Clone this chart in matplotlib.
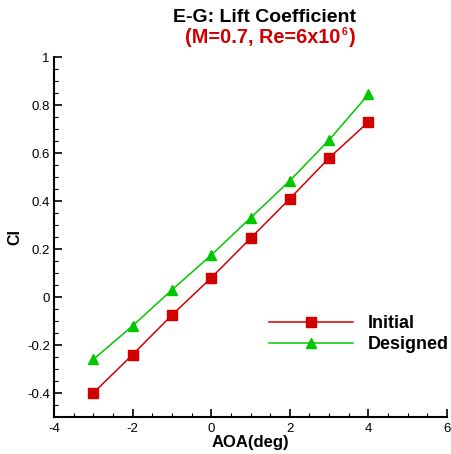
import matplotlib
matplotlib.use("Agg")
import matplotlib.pyplot as plt
from matplotlib.ticker import MultipleLocator

plt.rcParams['font.family'] = ['Liberation Sans', 'DejaVu Sans']
plt.rcParams['axes.unicode_minus'] = False

aoa = [-3, -2, -1, 0, 1, 2, 3, 4]
cl_initial = [-0.40, -0.24, -0.075, 0.08, 0.245, 0.41, 0.58, 0.73]
cl_designed = [-0.26, -0.12, 0.03, 0.175, 0.33, 0.485, 0.655, 0.845]
xticks = [-4, -2, 0, 2, 4, 6]
yticks = [-0.4, -0.2, 0, 0.2, 0.4, 0.6, 0.8, 1]

W, H = 452, 454
fig = plt.figure(figsize=(W / 100, H / 100), dpi=100)
ax = fig.add_axes([0.1195, 0.0815, 0.8695, 0.7925])

red = '#D00000'
green = '#00C800'
ax.plot(aoa, cl_initial, color=red, lw=1.1, marker='s', ms=7.3, mfc=red, mec=red, label='Initial')
ax.plot(aoa, cl_designed, color=green, lw=1.1, marker='^', ms=7, mfc=green, mec=green, label='Designed')

ax.set_xlim(-4, 6)
ax.set_ylim(-0.5, 1)
ax.set_xticks(xticks)
ax.set_xticklabels([f"{t:g}" for t in xticks])
ax.set_yticks(yticks)
ax.set_yticklabels([f"{t:g}" for t in yticks])
ax.xaxis.set_minor_locator(MultipleLocator(0.5))
ax.yaxis.set_minor_locator(MultipleLocator(0.05))
ax.tick_params(which='major', direction='in', length=6, width=1.2, labelsize=9.5)
ax.tick_params(axis='x', which='major', pad=4)
ax.tick_params(axis='y', which='major', pad=3)
ax.tick_params(which='minor', direction='in', length=3, width=0.8)
for s in ['top', 'right']:
    ax.spines[s].set_visible(False)
for s in ['left', 'bottom']:
    ax.spines[s].set_linewidth(1.5)

ax.set_xlabel('AOA(deg)', fontsize=12, fontweight='bold', labelpad=0)
ax.set_ylabel('Cl', fontsize=11.5, fontweight='bold', labelpad=3)

fig.text(0.586, 1 - 22.5 / H, 'E-G: Lift Coefficient', ha='center', va='baseline', fontsize=14, fontweight='bold', color='black')

# subtitle with a small raised exponent
base_y = 1 - 43 / H
t1 = fig.text(185 / W, base_y, '(M=0.7, Re=6x10', ha='left', va='baseline', fontsize=14.3, fontweight='bold', color=red)
fig.canvas.draw()
r = fig.canvas.get_renderer()
bb = t1.get_window_extent(renderer=r)
x_sup = bb.x1 + 1.5
t2 = fig.text(x_sup / W, base_y + 8 / H, '6', ha='left', va='baseline', fontsize=7.5, fontweight='bold', color=red)
bb2 = t2.get_window_extent(renderer=r)
fig.text((bb2.x1 + 1) / W, base_y, ')', ha='left', va='baseline', fontsize=14.3, fontweight='bold', color=red)

leg = ax.legend(loc='center left', bbox_to_anchor=(0.529, 0.2306), frameon=False, fontsize=13,
                handlelength=4.65, handletextpad=0.83, labelspacing=0.2, borderaxespad=0)
for t in leg.get_texts():
    t.set_fontweight('bold')

fig.savefig('out.png', dpi=100)
